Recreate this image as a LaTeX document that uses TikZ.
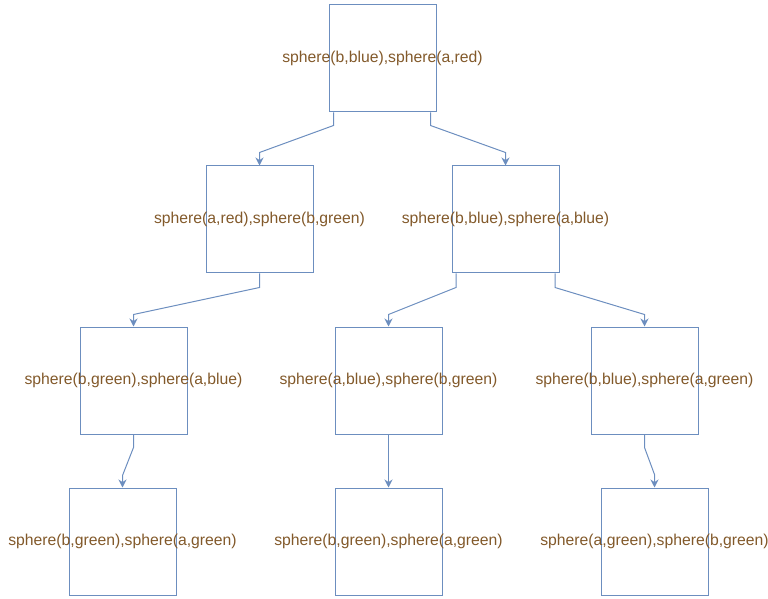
\documentclass[tikz,border=0pt]{standalone}
\usepackage{fontspec}
\setmainfont{Liberation Sans}
\usetikzlibrary{arrows.meta, calc}

\definecolor{boxblue}{HTML}{6C8EBF}
\definecolor{textbrown}{HTML}{82592A}

\tikzset{
	state/.style = {draw = boxblue, line width = 0.75pt, minimum width = 80.25pt, minimum height = 80.25pt, inner sep = 0pt},
	term/.style = {text = textbrown, font = \fontsize{11.8pt}{14pt}\selectfont, inner sep = 0pt},
	link/.style = {draw = boxblue, line width = 0.75pt, -{Stealth[length = 6pt, width = 6pt]}}
}

\begin{document}
\begin{tikzpicture}[x = 0.75pt, y = -0.75pt]

	% Frame
	
	\useasboundingbox (0, 0) rectangle (768, 599);
	
	% States
	
	\node [state, label = {[term]center:sphere(b,blue),sphere(a,red)}] (root) at (382.5, 58.5) {};
	
	\node [state, label = {[term]center:sphere(a,red),sphere(b,green)}] (l) at (259.5, 219.5) {};
	\node [state, label = {[term]center:sphere(b,blue),sphere(a,blue)}] (r) at (505.5, 219.5) {};
	
	\node [state, label = {[term]center:sphere(b,green),sphere(a,blue)}] (ll) at (133.5, 380.5) {};
	\node [state, label = {[term]center:sphere(a,blue),sphere(b,green)}] (rl) at (388.5, 380.5) {};
	\node [state, label = {[term]center:sphere(b,blue),sphere(a,green)}] (rr) at (644.5, 380.5) {};
	
	\node [state, label = {[term]center:sphere(b,green),sphere(a,green)}] (lll) at (122.5, 541.5) {};
	\node [state, label = {[term]center:sphere(b,green),sphere(a,green)}] (rll) at (388.5, 541.5) {};
	\node [state, label = {[term]center:sphere(a,green),sphere(b,green)}] (rrr) at (654.5, 541.5) {};
	
	% Links
	
	\draw [link] ($(root.south) + (-49, 0)$) -- ++(0, 13) -- ($(l.north) + (0, -13)$) -- (l.north);
	\draw [link] ($(root.south) + (48, 0)$) -- ++(0, 13) -- ($(r.north) + (0, -13)$) -- (r.north);
	
	\draw [link] (l.south) -- ++(0, 14) -- ($(ll.north) + (0, -12)$) -- (ll.north);
	\draw [link] ($(r.south) + (-49.5, 0)$) -- ++(0, 14) -- ($(rl.north) + (0, -12)$) -- (rl.north);
	\draw [link] ($(r.south) + (49.5, 0)$) -- ++(0, 14) -- ($(rr.north) + (0, -12)$) -- (rr.north);
	
	\draw [link] (ll.south) -- ++(0, 13) -- ($(lll.north) + (0, -12)$) -- (lll.north);
	\draw [link] (rl.south) -- (rll.north);
	\draw [link] (rr.south) -- ++(0, 13) -- ($(rrr.north) + (0, -13)$) -- (rrr.north);
	
\end{tikzpicture}
\end{document}
